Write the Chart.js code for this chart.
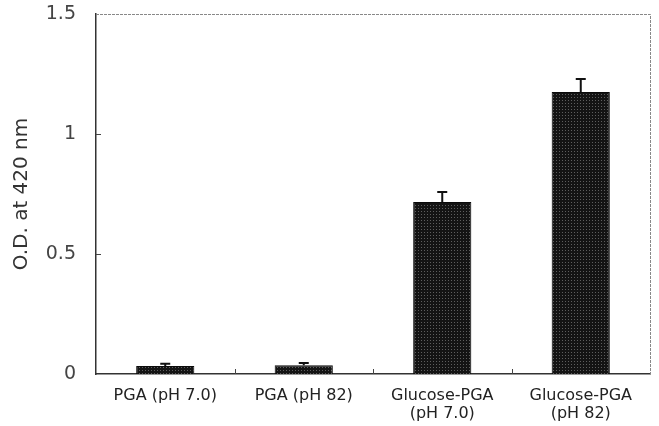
<!DOCTYPE html>
<html>
<head>
<meta charset="utf-8">
<script src="https://cdn.jsdelivr.net/npm/chart.js@4"></script>
<style>
  body { margin: 0; background: #fff; }
  #wrap { width: 659px; height: 426px; }
</style>
</head>
<body>
<div id="wrap"><canvas id="odChart"></canvas></div>
<script>
const categories = [
    "PGA (pH 7.0)",
    "PGA (pH 82)",
    ["Glucose-PGA", "(pH 7.0)"],
    ["Glucose-PGA", "(pH 82)"]
];
const odValues = [0.033, 0.036, 0.717, 1.175];
const odErrors = [0.010, 0.010, 0.041, 0.054];
const yTicks = [0, 0.5, 1, 1.5];
const yTickLabels = ["0", "0.5", "1", "1.5"];

// dark dotted fill like the scanned bars
const makePattern = () => {
    const c = document.createElement('canvas');
    c.width = 3;
    c.height = 3;
    const g = c.getContext('2d');
    g.fillStyle = '#141414';
    g.fillRect(0, 0, 3, 3);
    g.fillStyle = '#5e5e5e';
    g.fillRect(1, 1, 1, 1);
    return g.createPattern(c, 'repeat');
};

const frame = {
    id: 'frame',
    afterDraw(chart) {
        const { ctx, chartArea: a, scales: { x, y } } = chart;
        ctx.save();
        // top and right edges, lighter and broken
        ctx.strokeStyle = '#888';
        ctx.lineWidth = 1;
        ctx.setLineDash([3, 1]);
        ctx.beginPath();
        ctx.moveTo(a.left, a.top + 0.5);
        ctx.lineTo(a.right + 0.5, a.top + 0.5);
        ctx.lineTo(a.right + 0.5, a.bottom);
        ctx.stroke();
        ctx.setLineDash([]);
        // inward tick marks
        ctx.strokeStyle = '#444';
        ctx.beginPath();
        yTicks.slice(1, 3).forEach(v => {
            const py = Math.round(y.getPixelForValue(v)) + 0.5;
            ctx.moveTo(a.left, py);
            ctx.lineTo(a.left + 5, py);
        });
        for (let i = 1; i < categories.length; i++) {
            const px = Math.round((x.getPixelForValue(i - 1) + x.getPixelForValue(i)) / 2) + 0.5;
            ctx.moveTo(px, a.bottom);
            ctx.lineTo(px, a.bottom - 5);
        }
        ctx.stroke();
        ctx.restore();
    }
};

const errorBars = {
    id: 'errorBars',
    afterDatasetsDraw(chart) {
        const { ctx, scales: { y } } = chart;
        const meta = chart.getDatasetMeta(0);
        ctx.save();
        ctx.strokeStyle = '#111';
        ctx.lineWidth = 2;
        meta.data.forEach((bar, i) => {
            const top = y.getPixelForValue(odValues[i] + odErrors[i]);
            ctx.beginPath();
            ctx.moveTo(bar.x, bar.y);
            ctx.lineTo(bar.x, top);
            ctx.moveTo(bar.x - 5, top);
            ctx.lineTo(bar.x + 5, top);
            ctx.stroke();
        });
        ctx.restore();
    }
};

new Chart(document.getElementById('odChart'), {
    type: 'bar',
    data: {
        labels: categories,
        datasets: [{
            data: odValues,
            backgroundColor: makePattern(),
            borderColor: '#0a0a0a',
            borderWidth: 1,
            barPercentage: 0.42,
            categoryPercentage: 1
        }]
    },
    options: {
        responsive: true,
        maintainAspectRatio: false,
        animation: false,
        layout: { padding: { top: 14, right: 9, left: 0, bottom: 0 } },
        plugins: {
            legend: { display: false },
            tooltip: { enabled: false }
        },
        scales: {
            x: {
                grid: { display: false, drawTicks: false },
                border: { color: '#333', width: 1.5 },
                ticks: {
                    color: '#222',
                    padding: 13,
                    maxRotation: 0,
                    autoSkip: false,
                    font: { family: 'DejaVu Sans', size: 16, lineHeight: 1.1 }
                },
                afterFit: (s) => { s.height = 52; }
            },
            y: {
                min: 0,
                max: 1.5,
                grid: { display: false, drawTicks: false },
                border: { color: '#333', width: 1.5 },
                afterBuildTicks: (s) => { s.ticks = yTicks.map(v => ({ value: v })); },
                ticks: {
                    color: '#444',
                    padding: 20,
                    font: { family: 'DejaVu Sans', size: 19 },
                    callback: (v) => yTickLabels[yTicks.indexOf(v)]
                },
                title: {
                    display: true,
                    text: 'O.D. at 420 nm',
                    color: '#333',
                    padding: { top: 10, bottom: 0 },
                    font: { family: 'DejaVu Sans', size: 20 }
                },
                afterFit: (s) => {
                    s.width = 96;
                    s.paddingTop = 0;
                    s.paddingBottom = 0;
                }
            }
        }
    },
    plugins: [frame, errorBars]
});
</script>
</body>
</html>
